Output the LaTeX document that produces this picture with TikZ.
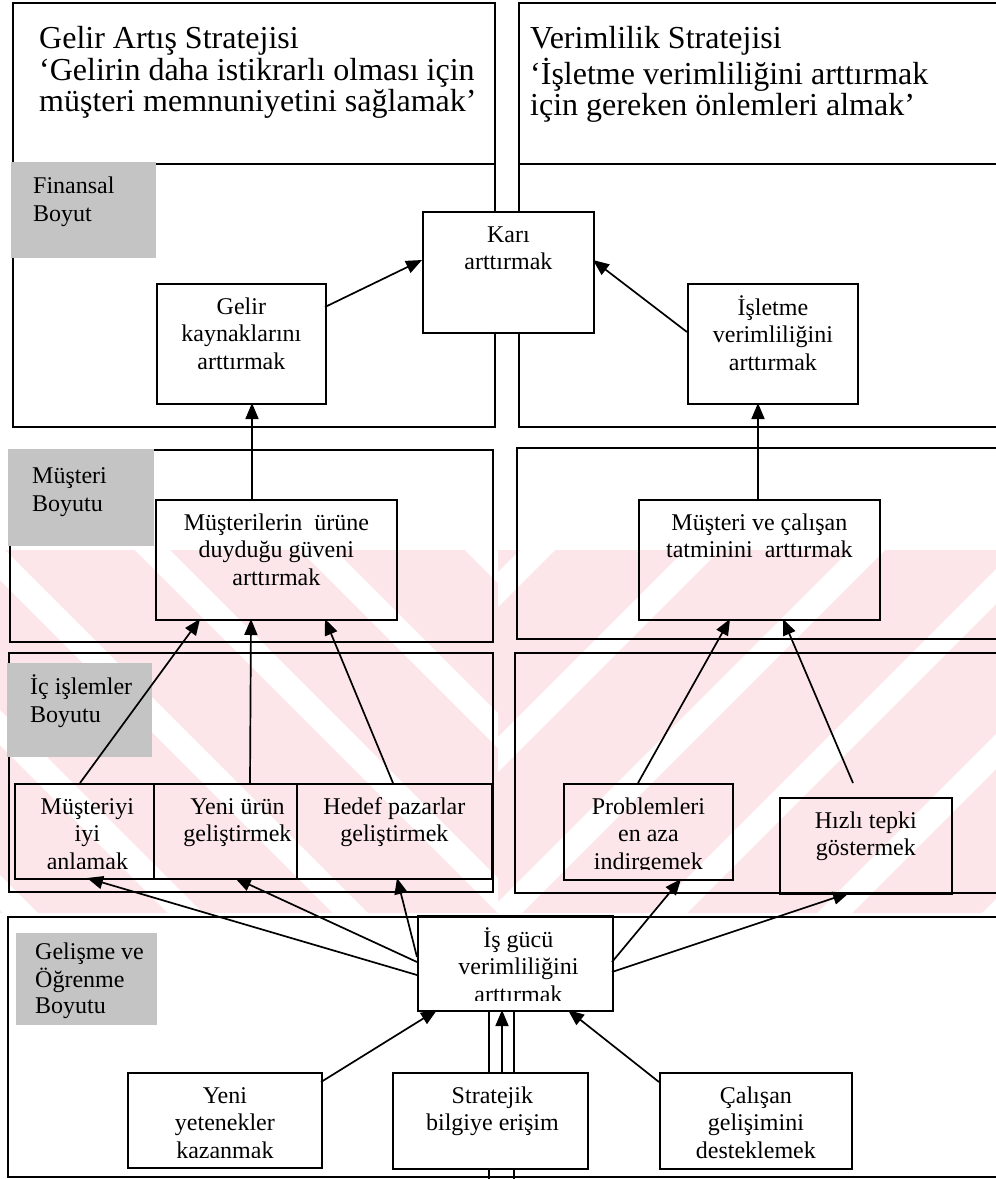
\documentclass[tikz,border=0pt]{standalone}
\usepackage{fontspec}
\setmainfont{Liberation Serif}
\usetikzlibrary{arrows.meta}
\definecolor{wm}{RGB}{252,230,233}
\definecolor{lbl}{RGB}{196,196,196}
\tikzset{
 panel/.style={draw=black, line width=1.8pt},
 boxst/.style={draw=black, line width=1.8pt, inner sep=0pt, rectangle},
 txt/.style={font=\fontsize{24}{27.5}\selectfont, align=center, inner sep=0pt},
 lbltxt/.style={font=\fontsize{24}{28}\selectfont, align=left, inner sep=0pt, anchor=north west},
 lbltxtb/.style={font=\fontsize{24}{26}\selectfont, align=left, inner sep=0pt, anchor=north west},
 graylbl/.style={fill=lbl, draw=none, inner sep=0pt, anchor=north west},
 head/.style={font=\fontsize{32}{30.5}\selectfont, align=left, inner sep=0pt, anchor=north west},
 arr/.style={line width=1.7pt, -{Triangle[length=16pt,width=13pt]}},
 ln/.style={line width=1.7pt},
}
\newcommand\kbox[7]{%
  \node[boxst, minimum width=#4pt, minimum height=#5pt, anchor=north west] (#1) at (#2,#3) {};
  \begin{scope}
    \clip ([shift={(1.5pt,11pt)}]#1.south west) rectangle ([shift={(-1pt,-1pt)}]#1.north east);
    \node[txt, anchor=north] (#1t) at ([shift={(#6pt,-12pt)}]#1.north) {\strut #7};
  \end{scope}}
\begin{document}
\begin{tikzpicture}[x=1pt,y=-1pt]
\useasboundingbox (0,0) rectangle (996,1179);
% watermark
\fill[wm] (0,550) rectangle (996,913);
\begin{scope}
\clip (0,550) rectangle (498,913);
\foreach \c in {-360,-195,...,500} \fill[white] (\c,550) -- ++(35,0) -- ++(400,400) -- ++(-35,0) -- cycle;
\end{scope}
\begin{scope}
\clip (498,550) rectangle (996,913);
\foreach \c in {520,685,...,1400} \fill[white] (\c,550) -- ++(35,0) -- ++(-400,400) -- ++(-35,0) -- cycle;
\end{scope}
% panels
\draw[panel] (13,3) rectangle (495,164);
\draw[panel] (519,3) rectangle (1002,164);
\draw[panel] (13,164) rectangle (495,427);
\draw[panel] (519,164) rectangle (1002,427);
\draw[panel] (10,450) rectangle (493,642);
\draw[panel] (517,448) rectangle (1002,639);
\draw[panel] (9,653) rectangle (493,892);
\draw[panel] (515,653) rectangle (1002,893);
\draw[panel] (8,917) rectangle (1002,1177);
% gray labels
\node[graylbl, minimum width=145pt, minimum height=96pt] (gfin) at (11,162) {};
\node[lbltxt] (gfint) at (33,173.4) {\strut Finansal\\Boyut};
\node[graylbl, minimum width=146pt, minimum height=97pt] (gmus) at (8,449) {};
\node[lbltxt] (gmust) at (32,463.4) {\strut Müşteri\\Boyutu};
\node[graylbl, minimum width=145pt, minimum height=94pt] (gic) at (7,663) {};
\node[lbltxt] (gict) at (30,674.4) {\strut İç işlemler\\Boyutu};
\node[graylbl, minimum width=141pt, minimum height=92pt] (ggel) at (16,933) {};
\node[lbltxtb] (ggelt) at (35,940.8) {\strut Gelişme ve\\Öğrenme\\Boyutu};
% headings
\node[head] (h1) at (39,26) {\strut Gelir Artış Stratejisi\\‘Gelirin daha istikrarlı olması için\\müşteri memnuniyetini sağlamak’};
\node[head] (h2) at (530,26) {\strut Verimlilik Stratejisi\\‘İşletme verimliliğini arttırmak\\için gereken önlemleri almak’};
% boxes
\fill[white] (422,211) rectangle (593,332);
\kbox{kari}{422}{211}{171}{121}{0}{Karı\\arttırmak}
\kbox{gelir}{156}{283}{169}{120}{0}{Gelir\\kaynaklarını\\arttırmak}
\kbox{isl}{687}{283}{170}{120}{0}{İşletme\\verimliliğini\\arttırmak}
\kbox{mus}{155}{499}{241}{120}{0}{Müşterilerin\ \ ürüne\\duyduğu güveni\\arttırmak}
\kbox{mc}{638}{499}{241}{120}{0}{Müşteri ve çalışan\\tatminini\ \ arttırmak}
\kbox{mi}{14}{783}{139}{95}{3}{Müşteriyi\\iyi\\anlamak}
\kbox{yu}{153}{783}{143}{95}{12}{Yeni ürün\\geliştirmek}
\kbox{hp}{296}{783}{195}{95}{0}{Hedef pazarlar\\geliştirmek}
\kbox{pr}{563}{783}{169}{96}{0}{Problemleri\\en aza\\indirgemek}
\kbox{hz}{779}{797}{172}{96}{0}{Hızlı tepki\\göstermek}
\kbox{ig}{417}{915}{195}{95}{3}{İş gücü\\verimliliğini\\arttırmak}
\kbox{yy}{127}{1072}{194}{95}{0}{Yeni\\yetenekler\\kazanmak}
\kbox{sb}{392}{1072}{195}{96}{2}{Stratejik\\bilgiye erişim}
\kbox{cg}{659}{1072}{192}{96}{0}{Çalışan\\gelişimini\\desteklemek}
% channel lines in the bottom panel
\draw[ln] ([xshift=72pt]ig.south west) -- ([xshift=97pt]sb.north west);
\draw[ln] ([xshift=97pt]ig.south west) -- ([xshift=122pt]sb.north west);
\draw[ln] ([xshift=97pt]sb.south west) -- ++(0,12);
\draw[ln] ([xshift=122pt]sb.south west) -- ++(0,12);
% arrows
\draw[arr] ([shift={(169,24)}]gelir.north west) -- ([shift={(0,49)}]kari.north west);
\draw[arr] ([shift={(0,49)}]isl.north west) -- ([shift={(171,49)}]kari.north west);
\draw[arr] ([shift={(97,0)}]mus.north west) -- ([shift={(96,120)}]gelir.north west);
\draw[arr] ([shift={(120,0)}]mc.north west) -- ([shift={(71,120)}]isl.north west);
\draw[arr] ([shift={(66,0)}]mi.north west) -- ([shift={(45,120)}]mus.north west);
\draw[arr] ([shift={(97,0)}]yu.north west) -- ([shift={(96,120)}]mus.north west);
\draw[arr] ([shift={(97,0)}]hp.north west) -- ([shift={(170,120)}]mus.north west);
\draw[arr] ([shift={(75,0)}]pr.north west) -- ([shift={(92,120)}]mc.north west);
\coordinate (hzt) at (853,783);
\draw[arr] (hzt) -- ([shift={(145,120)}]mc.north west);
\draw[arr] ([shift={(0,60)}]ig.north west) -- ([shift={(73,95)}]mi.north west);
\draw[arr] ([shift={(0,47)}]ig.north west) -- ([shift={(82,95)}]yu.north west);
\draw[arr] ([shift={(0,42)}]ig.north west) -- ([shift={(101,95)}]hp.north west);
\draw[arr] ([shift={(195,47)}]ig.north west) -- ([shift={(118,96)}]pr.north west);
\draw[arr] ([shift={(195,57)}]ig.north west) -- ([shift={(70,96)}]hz.north west);
\draw[arr] ([shift={(194,10)}]yy.north west) -- ([shift={(20,95)}]ig.north west);
\draw[arr] ([shift={(110,0)}]sb.north west) -- ([shift={(85,95)}]ig.north west);
\draw[arr] ([shift={(0,10)}]cg.north west) -- ([shift={(151,95)}]ig.north west);
\end{tikzpicture}
\end{document}
